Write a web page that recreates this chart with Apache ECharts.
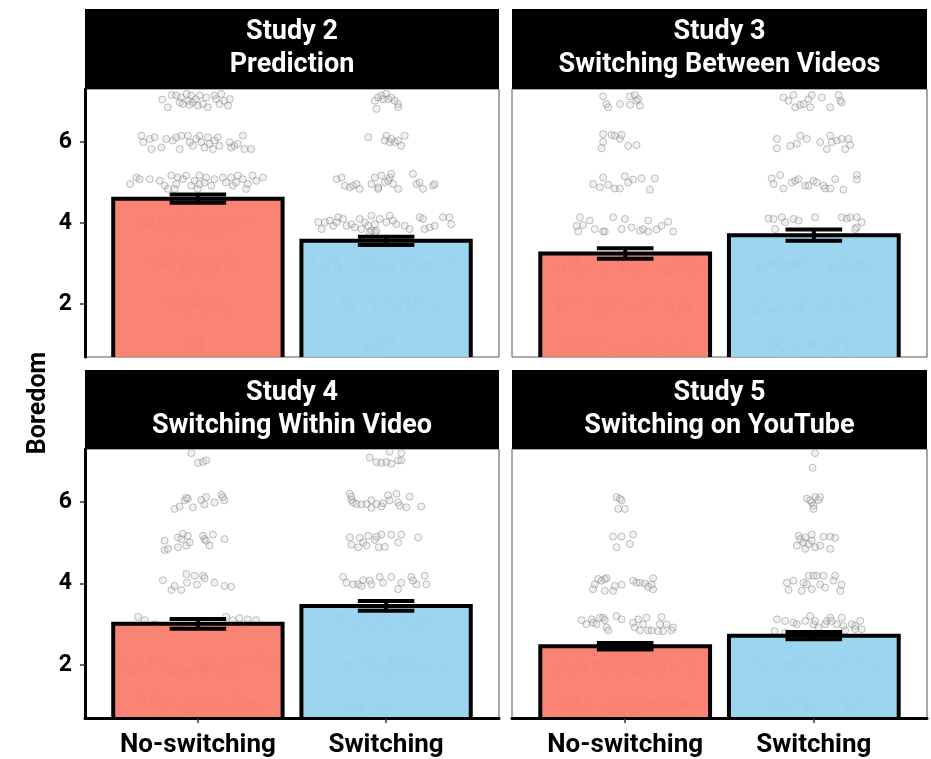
<!DOCTYPE html>
<html>
<head>
<meta charset="utf-8">
<script src="https://cdn.jsdelivr.net/npm/echarts@6/dist/echarts.min.js"></script>
<style>
  html, body { margin: 0; padding: 0; background: #fff; }
  #chart { width: 931px; height: 759px; }
</style>
</head>
<body>
<div id="chart"></div>
<script>
// ---- data ----
const categories = ['No-switching', 'Switching'];
const studyTitles = [
  'Study 2\nPrediction',
  'Study 3\nSwitching Between Videos',
  'Study 4\nSwitching Within Video',
  'Study 5\nSwitching on YouTube'
];
const yTicks = [2, 4, 6];
const yLabel = 'Boredom';

// condition means and standard errors (No-switching, Switching)
const study2Means = [4.60, 3.56];
const study2SE = [0.10, 0.10];
const study3Means = [3.25, 3.70];
const study3SE = [0.13, 0.14];
const study4Means = [3.01, 3.45];
const study4SE = [0.12, 0.12];
const study5Means = [2.46, 2.72];
const study5SE = [0.08, 0.09];

// individual responses: [horizontal jitter, boredom]
const study2NoSwitch = [
  [-0.19,7.04],[-0.16,6.85],[-0.14,7.15],[-0.115,7.14],[-0.09,7.09],[-0.08,6.93],[-0.06,7.18],[-0.05,7.01],[-0.035,7.14],[-0.027,6.97],[-0.01,7.05],[0,6.89],[0.01,7.14],[0.027,6.93],[0.044,7.09],[0.053,6.85],[0.088,7.14],[0.097,7.05],[0.115,6.93],[0.124,7.18],[0.14,7.01],[0.16,6.89],[0.17,7.05],[-0.044,6.91],[-0.097,6.97],
  [-0.30,6.15],[-0.29,5.99],[-0.256,6.07],[-0.247,5.82],[-0.23,6.11],[-0.194,5.86],[-0.168,6.07],[-0.133,6.03],[-0.115,6.11],[-0.097,5.82],[-0.088,6.15],[-0.053,6.15],[-0.044,5.99],[-0.027,5.9],[-0.009,6.07],[0.009,6.15],[0.018,5.99],[0.035,5.86],[0.053,6.11],[0.062,5.95],[0.08,5.82],[0.088,6.03],[0.106,6.11],[0.115,5.9],[0.168,5.99],[0.177,5.86],[0.194,5.9],[0.239,6.15],[0.247,5.82],[0.283,5.82],[0.212,5.95],
  [-0.36,4.96],[-0.327,5.12],[-0.31,5.08],[-0.256,5.08],[-0.203,5.04],[-0.177,4.92],[-0.159,4.84],[-0.141,5.17],[-0.124,4.84],[-0.106,5.12],[-0.08,5.08],[-0.062,5.17],[-0.035,4.92],[-0.018,5.04],[0,4.84],[0.009,4.96],[0.035,5.0],[0.044,5.12],[0.071,4.92],[0.088,5.08],[0.133,5.12],[0.15,5.0],[0.177,5.12],[0.186,4.92],[0.203,5.0],[0.212,5.17],[0.239,5.08],[0.256,4.84],[0.265,4.96],[0.29,5.17],[0.31,5.04],[0.345,5.12],[0.009,5.17],[-0.115,4.96],
  [-0.29,3.93],[-0.256,4.02],[-0.194,3.85],[-0.15,4.02],[-0.141,3.77],[-0.115,3.93],[-0.097,4.14],[-0.08,3.85],[-0.053,4.06],[-0.027,3.93],[-0.009,4.14],[0.027,3.85],[0.044,4.02],[0.08,3.93],[0.097,4.1],[0.133,3.81],[0.15,4.02],[0.186,3.93],[0.221,4.06],[0.256,4.06],[-0.194,4.06],[0,3.77],[0.062,3.81],
  [-0.23,3.11],[-0.212,2.91],[-0.186,3.03],[-0.159,3.15],[-0.141,2.95],[-0.088,2.78],[-0.071,2.87],[-0.053,3.15],[-0.035,2.99],[0,2.91],[0.027,3.03],[0.044,2.83],[0.088,2.83],[0.106,2.99],[0.124,3.11],[0.159,3.03],[0.177,3.15],[0.194,2.87],[0.212,2.99],[-0.097,3.11],
  [-0.159,2.13],[-0.141,1.92],[-0.106,1.88],[-0.071,2.05],[-0.053,1.84],[-0.027,2.17],[-0.009,1.96],[0.027,2.0],[0.044,1.84],[0.08,2.13],[0.097,2.05],[0.15,1.84],[-0.044,1.96],
  [-0.027,1.02],[0,1.1],[0.027,1.14],[0.009,0.9]
];
const study2Switch = [
  [-0.06,7.01],[-0.042,7.09],[-0.025,7.14],[0,7.18],[0.011,7.05],[0.028,7.09],[0.046,7.01],[0.064,6.93],[0.064,6.85],[-0.051,6.81],[-0.016,7.05],
  [-0.095,6.11],[0.002,6.15],[-0.007,6.03],[0.019,5.99],[0.046,5.99],[0.064,6.03],[0.081,5.9],[0.099,6.15],[0.028,6.07],
  [-0.263,5.08],[-0.237,5.12],[-0.219,4.92],[-0.193,4.88],[-0.175,4.92],[-0.157,4.96],[-0.14,4.84],[-0.078,4.96],[-0.06,5.12],[-0.042,4.88],[-0.025,5.17],[-0.007,5.0],[0.019,5.12],[0.028,5.21],[0.037,4.96],[0.064,4.84],[0.143,5.21],[0.161,4.96],[0.178,5.0],[0.196,4.84],[0.249,4.92],[0.258,4.96],[-0.042,4.84],[0.011,5.04],
  [-0.36,4.02],[-0.343,3.85],[-0.325,4.02],[-0.299,4.06],[-0.281,3.93],[-0.254,4.14],[-0.228,4.1],[-0.21,3.93],[-0.184,3.97],[-0.166,3.89],[-0.14,4.1],[-0.131,3.85],[-0.113,4.02],[-0.095,3.93],[-0.078,4.18],[-0.06,3.97],[-0.051,3.81],[-0.034,4.1],[0.002,4.02],[0.019,4.18],[0.037,4.06],[0.055,3.97],[0.099,3.93],[0.125,3.85],[0.178,4.14],[0.196,4.1],[0.205,3.85],[0.231,3.89],[0.258,3.93],[0.302,4.14],[0.337,4.14],[0.346,3.97],[-0.078,3.81],[-0.087,3.77],[-0.06,3.77],[-0.263,4.02],
  [-0.396,3.11],[-0.325,2.95],[-0.316,2.83],[-0.254,2.91],[-0.228,2.87],[-0.122,3.07],[-0.104,2.87],[-0.078,3.07],[-0.051,2.99],[-0.025,2.87],[0.028,2.91],[0.064,3.15],[0.099,2.87],[0.117,3.07],[0.161,3.11],[0.196,2.87],[0.223,2.99],[0.276,3.15],[0.329,2.95],[0.364,3.15],[-0.272,3.11],[-0.148,2.95],
  [-0.272,1.88],[-0.219,2.13],[-0.184,1.92],[-0.148,2.17],[-0.069,2.09],[-0.051,1.88],[-0.007,2.13],[0.028,1.96],[0.064,1.84],[0.108,2.13],[0.125,1.92],[0.17,2.13],[0.214,2.05],[0.258,1.88],[-0.21,2.0],
  [-0.14,1.18],[-0.095,0.94],[-0.042,1.14],[-0.025,0.9],[0.011,1.06],[0.028,1.14],[-0.06,0.81],[-0.113,0.81]
];
const study3NoSwitch = [
  [-0.117,7.12],[-0.099,6.93],[-0.09,6.85],[-0.028,6.93],[0.025,7.12],[0.051,7.15],[0.06,7.01],[0.025,6.91],[0.078,6.89],[0.069,7.05],
  [-0.117,6.19],[-0.117,6.0],[-0.125,5.84],[-0.072,6.17],[-0.055,6.15],[-0.028,6.07],[-0.019,6.17],[0.016,5.9],[0.06,5.92],
  [-0.17,4.96],[-0.134,4.88],[-0.117,5.12],[-0.09,4.94],[-0.055,4.85],[-0.028,4.85],[-0.002,5.15],[0.016,5.0],[0.042,5.07],[0.087,5.1],[0.131,4.82],[0.157,5.1],
  [-0.258,3.93],[-0.249,3.79],[-0.24,4.14],[-0.223,3.95],[-0.187,4.06],[-0.161,3.85],[-0.117,3.79],[-0.064,4.14],[-0.019,3.85],[-0.002,4.1],[0.034,3.89],[0.078,3.81],[0.095,3.85],[0.122,4.06],[0.122,3.79],[0.166,3.84],[0.193,3.93],[0.228,4.03],[0.254,3.79],[-0.108,3.79],
  [-0.337,2.91],[-0.311,2.87],[-0.267,3.03],[-0.223,2.83],[-0.196,2.91],[-0.108,2.83],[-0.002,2.91],[0.069,2.83],[0.21,2.83],[0.237,2.8],[0.281,2.95],[0.334,2.95],[0.369,2.83],[-0.276,3.11],[-0.117,3.07],
  [-0.346,2.05],[-0.337,1.88],[-0.267,2.13],[-0.152,2.05],[-0.134,1.84],[-0.125,2.09],[-0.09,1.88],[-0.055,2.09],[0.016,1.88],[0.051,1.92],[0.131,2.13],[0.237,1.96],[0.299,1.96],[0.334,1.92],[0.272,1.84],[0.078,1.88],
  [-0.311,1.02],[-0.267,1.06],[-0.223,1.06],[-0.17,0.98],[-0.108,1.14],[-0.055,0.85],[-0.011,0.94],[0.034,0.9],[0.095,0.98],[0.148,0.98],[0.193,0.85],[0.246,0.98],[0.316,0.98],[-0.249,0.9]
];
const study3Switch = [
  [-0.161,7.09],[-0.134,7.01],[-0.108,7.15],[-0.099,6.85],[-0.072,6.91],[-0.055,6.93],[-0.028,7.05],[-0.019,6.85],[-0.011,7.15],[0.042,7.09],[0.087,6.85],[0.131,7.15],[0.14,7.01],[0.148,6.97],
  [-0.196,6.07],[-0.196,5.84],[-0.125,5.9],[-0.09,5.95],[-0.072,6.15],[-0.037,6.07],[0.034,5.99],[0.069,5.82],[0.087,6.15],[0.095,5.99],[0.122,6.03],[0.148,6.07],[0.166,5.82],[0.184,6.07],[0.193,5.92],
  [-0.223,5.1],[-0.214,4.96],[-0.178,5.18],[-0.161,4.85],[-0.117,5.0],[-0.099,5.04],[-0.081,5.08],[-0.046,4.92],[-0.028,4.92],[-0.002,5.04],[0.016,5.0],[0.051,4.92],[0.06,4.85],[0.087,4.85],[0.113,5.08],[0.157,4.82],[0.228,5.18],[0.228,5.07],
  [-0.24,4.11],[-0.214,4.1],[-0.205,3.85],[-0.17,4.14],[-0.152,4.02],[-0.108,4.1],[-0.081,4.06],[0.007,4.14],[0.148,4.14],[0.175,4.11],[0.193,4.14],[0.228,4.14],[0.228,3.89],[0.254,4.02],[0.219,3.85],
  [-0.293,2.95],[-0.284,2.83],[-0.231,2.99],[-0.196,3.03],[-0.161,3.03],[-0.125,2.95],[-0.099,2.99],[-0.064,3.07],[0.087,3.03],[0.104,2.87],[0.14,3.15],[0.157,2.95],[0.184,2.83],[0.219,2.99],[0.246,3.03],[0.254,2.83],[0.307,2.83],[-0.17,2.87],
  [-0.311,1.84],[-0.293,1.88],[-0.258,2.13],[-0.223,1.84],[-0.187,1.88],[-0.17,1.8],[-0.125,2.0],[-0.081,1.88],[-0.055,1.96],[-0.028,2.13],[0.007,1.84],[0.042,1.96],[0.087,1.88],[0.069,2.09],[0.157,2.13],[0.193,2.05],[0.201,1.84],[0.254,1.96],[0.299,2.09],[0.166,1.88],
  [-0.231,1.18],[-0.214,0.98],[-0.178,0.85],[-0.152,0.85],[-0.099,0.9],[-0.037,1.02],[-0.011,1.06],[0.007,0.98],[0.087,0.9],[0.113,0.98],[0.148,1.14],[0.184,0.9],[-0.187,1.06]
];
const study4NoSwitch = [
  [-0.035,7.2],[0,6.96],[0.027,6.98],[0.044,7.02],
  [-0.124,5.83],[-0.097,5.89],[-0.071,6.04],[-0.053,6.08],[-0.027,5.87],[0.018,6.05],[0.035,5.94],[0.044,6.12],[0.088,5.99],[0.124,6.18],[0.141,6.04],[0.133,6.12],[-0.062,6.1],
  [-0.177,5.05],[-0.177,4.82],[-0.159,4.85],[-0.106,5.13],[-0.106,4.89],[-0.088,5.09],[-0.08,5.22],[-0.062,4.93],[-0.053,5.17],[-0.044,5.01],[0.027,5.17],[0.035,5.09],[0.044,5.05],[0.062,4.93],[0.08,5.2],[0.141,5.09],
  [-0.186,4.08],[-0.141,3.84],[-0.124,3.94],[-0.088,3.84],[-0.062,4.23],[-0.058,4.02],[-0.018,4.19],[-0.005,3.97],[0.027,4.19],[0.035,4.13],[0.088,4.02],[0.141,3.94],[0.177,3.92],
  [-0.318,3.18],[-0.283,3.1],[0.15,3.18],[0.186,3.1],[0.221,3.15],[0.265,3.12],[0.309,3.1],[-0.3,2.88],[-0.23,3.0],[-0.097,2.92],[0.018,2.96],[0.239,2.92],[-0.168,2.88],
  [-0.38,2.01],[-0.353,1.85],[-0.309,2.14],[-0.283,1.89],[-0.256,2.1],[-0.239,2.14],[-0.194,2.1],[-0.15,1.85],[-0.124,1.85],[-0.088,1.89],[-0.053,1.85],[0,2.1],[0.018,1.97],[0.035,1.81],[0.053,2.1],[0.133,1.85],[0.159,2.14],[0.186,2.1],[0.203,1.85],[0.221,2.1],[0.256,2.14],[0.327,2.18],[0.389,2.01],[0.044,1.93],
  [-0.3,1.19],[-0.23,1.19],[-0.168,1.11],[-0.062,0.99],[-0.018,1.03],[0.009,1.11],[0.044,0.95],[0.088,1.03],[0.115,1.11],[0.168,0.95],[0.203,1.19],[0.23,1.03],[0.265,0.99],[0.3,1.03],[-0.035,0.86]
];
const study4Switch = [
  [-0.087,7.09],[-0.051,6.98],[-0.025,6.96],[0.002,6.98],[0.019,7.23],[0.028,6.94],[0.064,7.02],[0.081,7.2],[0.081,7.02],
  [-0.193,6.2],[-0.184,6.05],[-0.175,5.99],[-0.157,5.95],[-0.131,5.94],[-0.104,5.95],[-0.078,6.04],[-0.078,5.86],[-0.051,5.95],[-0.025,5.89],[-0.016,5.97],[0.011,6.16],[0.019,6.04],[0.055,6.2],[0.064,5.99],[0.072,5.91],[0.108,5.87],[0.125,6.13],[0.187,5.89],[-0.184,6.13],
  [-0.193,5.13],[-0.184,4.95],[-0.148,4.89],[-0.14,5.12],[-0.122,5.01],[-0.104,4.93],[-0.095,5.17],[-0.06,5.07],[-0.051,5.15],[-0.039,4.89],[-0.025,5.2],[-0.007,4.9],[0.028,5.2],[0.064,5.01],[0.081,5.2],[0.17,5.13],
  [-0.228,4.16],[-0.21,4.02],[-0.175,3.98],[-0.148,3.98],[-0.131,3.94],[-0.122,4.08],[-0.087,4.07],[-0.034,4.16],[-0.016,4.02],[0.028,4.16],[0.064,3.86],[0.081,4.02],[0.134,4.16],[0.161,3.98],[0.205,4.19],[0.214,3.98],[0.143,4.07],[-0.078,3.98],
  [-0.263,3.18],[-0.228,3.18],[-0.157,2.92],[-0.122,3.18],[-0.104,3.0],[-0.078,2.83],[-0.042,3.15],[0.011,2.88],[0.081,3.08],[0.117,2.96],[0.178,3.04],[0.196,3.15],[0.223,3.08],[0.231,3.12],[0.17,2.88],
  [-0.316,1.85],[-0.307,2.1],[-0.254,1.85],[-0.201,2.01],[-0.122,2.18],[-0.087,1.97],[-0.069,2.1],[-0.042,1.93],[-0.007,1.85],[0.019,2.01],[0.037,2.1],[0.072,1.93],[0.108,2.1],[0.117,1.85],[0.152,2.01],[0.178,1.93],[0.223,1.85],[0.24,2.01],[0.302,1.93],[0.028,1.77],
  [-0.228,1.03],[-0.193,0.95],[-0.131,1.03],[-0.078,0.86],[-0.034,0.95],[-0.007,0.86],[0.037,0.99],[0.108,1.07],[0.17,1.03],[0.231,1.19],[-0.148,0.95]
];
const study5NoSwitch = [
  [-0.046,6.12],[-0.028,6.08],[-0.019,6.04],[-0.037,5.83],[-0.002,5.83],
  [-0.064,5.15],[-0.046,4.89],[-0.019,5.15],[0.025,4.97],[0.042,5.2],
  [-0.17,3.86],[-0.161,3.98],[-0.143,4.11],[-0.125,4.07],[-0.108,4.11],[-0.099,4.13],[-0.108,3.82],[-0.064,3.82],[-0.055,3.94],[-0.019,3.97],[0.042,4.07],[0.06,4.02],[0.078,4.02],[0.104,4.0],[0.122,3.92],[0.148,4.13],[0.148,3.86],[0.14,3.97],
  [-0.231,3.1],[-0.205,3.0],[-0.178,3.12],[-0.17,3.04],[-0.152,3.0],[-0.134,3.16],[-0.117,3.16],[-0.108,3.1],[-0.099,2.92],[-0.09,2.85],[-0.046,3.2],[-0.019,3.12],[0.042,3.04],[0.051,2.92],[0.069,3.12],[0.078,2.85],[0.095,3.0],[0.113,3.16],[0.122,2.85],[0.14,2.85],[0.175,2.83],[0.193,3.18],[0.184,3.0],[0.219,3.0],[0.246,2.85],[0.254,2.92],[0.201,2.83],
  [-0.373,1.85],[-0.346,1.93],[-0.311,2.01],[-0.284,1.89],[-0.24,1.97],[-0.214,1.93],[-0.152,2.01],[-0.117,1.89],[-0.09,2.01],[-0.055,1.93],[-0.019,1.85],[-0.002,2.01],[0.034,1.93],[0.06,2.1],[0.087,1.85],[0.122,2.01],[0.166,2.1],[0.193,1.89],[0.228,2.01],[0.263,1.93],[0.334,2.1],[0.36,1.85],[0.051,1.85],
  [-0.302,1.03],[-0.267,1.15],[-0.24,0.99],[-0.196,1.03],[-0.108,0.95],[-0.064,1.11],[-0.055,0.91],[-0.019,0.99],[0.034,1.15],[0.042,0.86],[0.095,1.03],[0.14,0.99],[0.166,1.07],[0.21,1.11],[0.254,0.95],[0.299,1.07],[0.316,0.99],[0.007,1.03]
];
const study5Switch = [
  [0.007,7.2],[-0.007,6.84],
  [-0.037,6.08],[-0.011,5.99],[-0.002,5.91],[0.007,6.12],[0.025,6.05],[0.034,6.12],[-0.002,5.83],[-0.019,6.04],
  [-0.09,4.93],[-0.081,5.17],[-0.072,5.09],[-0.055,5.01],[-0.046,5.13],[-0.046,4.85],[-0.028,4.97],[-0.011,5.2],[-0.011,5.05],[0.007,4.89],[0.034,4.93],[0.051,5.15],[0.087,5.15],[0.087,4.85],[0.113,5.12],
  [-0.143,4.02],[-0.134,3.84],[-0.108,4.07],[-0.064,3.82],[-0.055,4.02],[-0.037,3.98],[-0.028,4.19],[-0.011,3.86],[-0.002,4.19],[0.016,4.19],[0.034,3.98],[0.051,4.19],[0.06,3.9],[0.104,4.07],[0.113,4.19],[0.14,3.82],[0.148,3.97],
  [-0.196,3.12],[-0.152,3.08],[-0.108,3.04],[-0.09,3.0],[-0.046,3.08],[-0.019,3.2],[-0.002,3.0],[0.007,3.08],[0.025,2.92],[0.06,3.0],[0.069,3.08],[0.087,3.16],[0.095,3.08],[0.122,3.0],[0.148,3.16],[0.157,2.96],[0.201,3.0],[0.219,2.96],[0.246,3.08],[0.254,2.88],[0.219,2.88],[-0.208,2.83],[-0.152,2.79],[0.166,2.85],
  [-0.302,2.05],[-0.258,1.93],[-0.214,2.18],[-0.17,1.85],[-0.143,2.01],[-0.108,1.97],[-0.081,2.18],[-0.046,2.1],[-0.011,1.89],[0.007,2.01],[0.042,1.85],[0.087,2.18],[0.113,1.93],[0.14,2.01],[0.184,2.1],[0.219,1.89],[0.246,2.18],[0.299,1.85],[0.325,1.93],[-0.081,1.85],
  [-0.276,1.11],[-0.223,1.03],[-0.187,1.19],[-0.17,0.95],[-0.143,1.03],[-0.09,1.11],[-0.046,1.07],[-0.028,0.95],[0.007,1.03],[0.06,0.99],[0.104,1.11],[0.157,1.19],[0.184,0.95],[0.219,1.03],[0.254,1.11]
];

// ---- assembly ----
const panelMeans = [study2Means, study3Means, study4Means, study5Means];
const panelSE = [study2SE, study3SE, study4SE, study5SE];
const panelPoints = [
  [study2NoSwitch, study2Switch],
  [study3NoSwitch, study3Switch],
  [study4NoSwitch, study4Switch],
  [study5NoSwitch, study5Switch]
];

const FONT = 'Roboto, "Liberation Sans", sans-serif';
const Y_MIN = 0.7, Y_MAX = 7.3;
const BAR_HALF = 0.45, CAP_HALF = 0.15;
const barFills = ['rgba(250,122,104,0.92)', 'rgba(148,209,238,0.92)'];

const grids = [
  { left: 85,  top: 89,  width: 414, height: 268 },
  { left: 512, top: 89,  width: 415, height: 268 },
  { left: 85,  top: 449, width: 414, height: 269 },
  { left: 512, top: 449, width: 415, height: 269 }
];
const stripTops = [9, 9, 370, 370];

function renderBar(params, api) {
  const x = api.value(0), m = api.value(1);
  const tl = api.coord([x - BAR_HALF, m]);
  const br = api.coord([x + BAR_HALF, Y_MIN]);
  return {
    type: 'group',
    children: [
      { type: 'rect', shape: { x: tl[0], y: tl[1], width: br[0] - tl[0], height: br[1] - tl[1] },
        style: { fill: barFills[params.dataIndex] } },
      { type: 'polyline',
        shape: { points: [[tl[0], br[1]], [tl[0], tl[1]], [br[0], tl[1]], [br[0], br[1]]] },
        style: { stroke: '#000', lineWidth: 4, fill: null, lineJoin: 'miter' } }
    ]
  };
}

function renderErr(params, api) {
  const x = api.value(0), m = api.value(1), se = api.value(2);
  const lo = api.coord([x, m - se]), hi = api.coord([x, m + se]);
  const l = api.coord([x - CAP_HALF, m])[0], r = api.coord([x + CAP_HALF, m])[0];
  const st = { stroke: '#000', lineWidth: 4 };
  return {
    type: 'group',
    children: [
      { type: 'line', shape: { x1: lo[0], y1: lo[1], x2: hi[0], y2: hi[1] }, style: st },
      { type: 'line', shape: { x1: l, y1: hi[1], x2: r, y2: hi[1] }, style: st },
      { type: 'line', shape: { x1: l, y1: lo[1], x2: r, y2: lo[1] }, style: st }
    ]
  };
}

const xAxes = [], yAxes = [], series = [], graphics = [];

grids.forEach((g, p) => {
  const bottomRow = p >= 2, leftCol = p % 2 === 0;
  xAxes.push({
    type: 'value', gridIndex: p, min: 0.4, max: 2.6, z: 10,
    splitLine: { show: false },
    axisLine: { show: bottomRow, onZero: false, lineStyle: { color: '#000', width: 3 } },
    axisTick: { show: bottomRow, customValues: [1, 2], length: 5, lineStyle: { color: '#333', width: 1.5 } },
    axisLabel: {
      show: bottomRow, customValues: [1, 2],
      formatter: v => categories[Math.round(v) - 1],
      margin: 14, fontSize: 26, fontWeight: 'bold', color: '#000', fontFamily: FONT
    }
  });
  yAxes.push({
    type: 'value', gridIndex: p, min: Y_MIN, max: Y_MAX, z: 10,
    splitLine: { show: false },
    axisLine: { show: leftCol, onZero: false, lineStyle: { color: '#000', width: 3 } },
    axisTick: { show: leftCol, customValues: yTicks, length: 5, lineStyle: { color: '#333', width: 1.5 } },
    axisLabel: {
      show: leftCol, customValues: yTicks,
      margin: 13, fontSize: 23, fontWeight: 'bold', color: '#000', fontFamily: FONT
    }
  });

  const pts = panelPoints[p];
  series.push({
    type: 'scatter', xAxisIndex: p, yAxisIndex: p, z: 2, silent: true,
    symbol: 'circle', symbolSize: 7,
    itemStyle: { color: 'rgba(205,205,205,0.35)', borderColor: 'rgba(105,105,105,0.5)', borderWidth: 1 },
    data: pts[0].map(d => [1 + d[0], d[1]]).concat(pts[1].map(d => [2 + d[0], d[1]]))
  });
  series.push({
    type: 'custom', xAxisIndex: p, yAxisIndex: p, z: 3, silent: true,
    renderItem: renderBar,
    data: panelMeans[p].map((m, i) => [i + 1, m])
  });
  series.push({
    type: 'custom', xAxisIndex: p, yAxisIndex: p, z: 4, silent: true,
    renderItem: renderErr,
    data: panelMeans[p].map((m, i) => [i + 1, m, panelSE[p][i]])
  });

  // facet strip
  const stripH = g.top - stripTops[p];
  graphics.push({
    type: 'rect', z: 5, silent: true,
    shape: { x: g.left, y: stripTops[p], width: g.width, height: stripH },
    style: { fill: '#000' }
  });
  graphics.push({
    type: 'text', z: 6, silent: true,
    x: g.left + g.width / 2, y: stripTops[p] + stripH / 2,
    style: {
      text: studyTitles[p], fill: '#fff', fontSize: 27, fontWeight: 'bold', fontFamily: FONT,
      align: 'center', verticalAlign: 'middle', lineHeight: 33
    }
  });
});

graphics.push({
  type: 'text', silent: true, x: 39, y: 403, rotation: Math.PI / 2,
  style: {
    text: yLabel, fill: '#000', fontSize: 25, fontWeight: 'bold', fontFamily: FONT,
    align: 'center', verticalAlign: 'middle'
  }
});

const chart = echarts.init(document.getElementById('chart'), null, { renderer: 'canvas' });
chart.setOption({
  animation: false,
  backgroundColor: '#fff',
  grid: grids.map(g => Object.assign({ show: true, borderColor: '#555', borderWidth: 1 }, g)),
  xAxis: xAxes,
  yAxis: yAxes,
  series: series,
  graphic: { elements: graphics }
});
</script>
</body>
</html>
